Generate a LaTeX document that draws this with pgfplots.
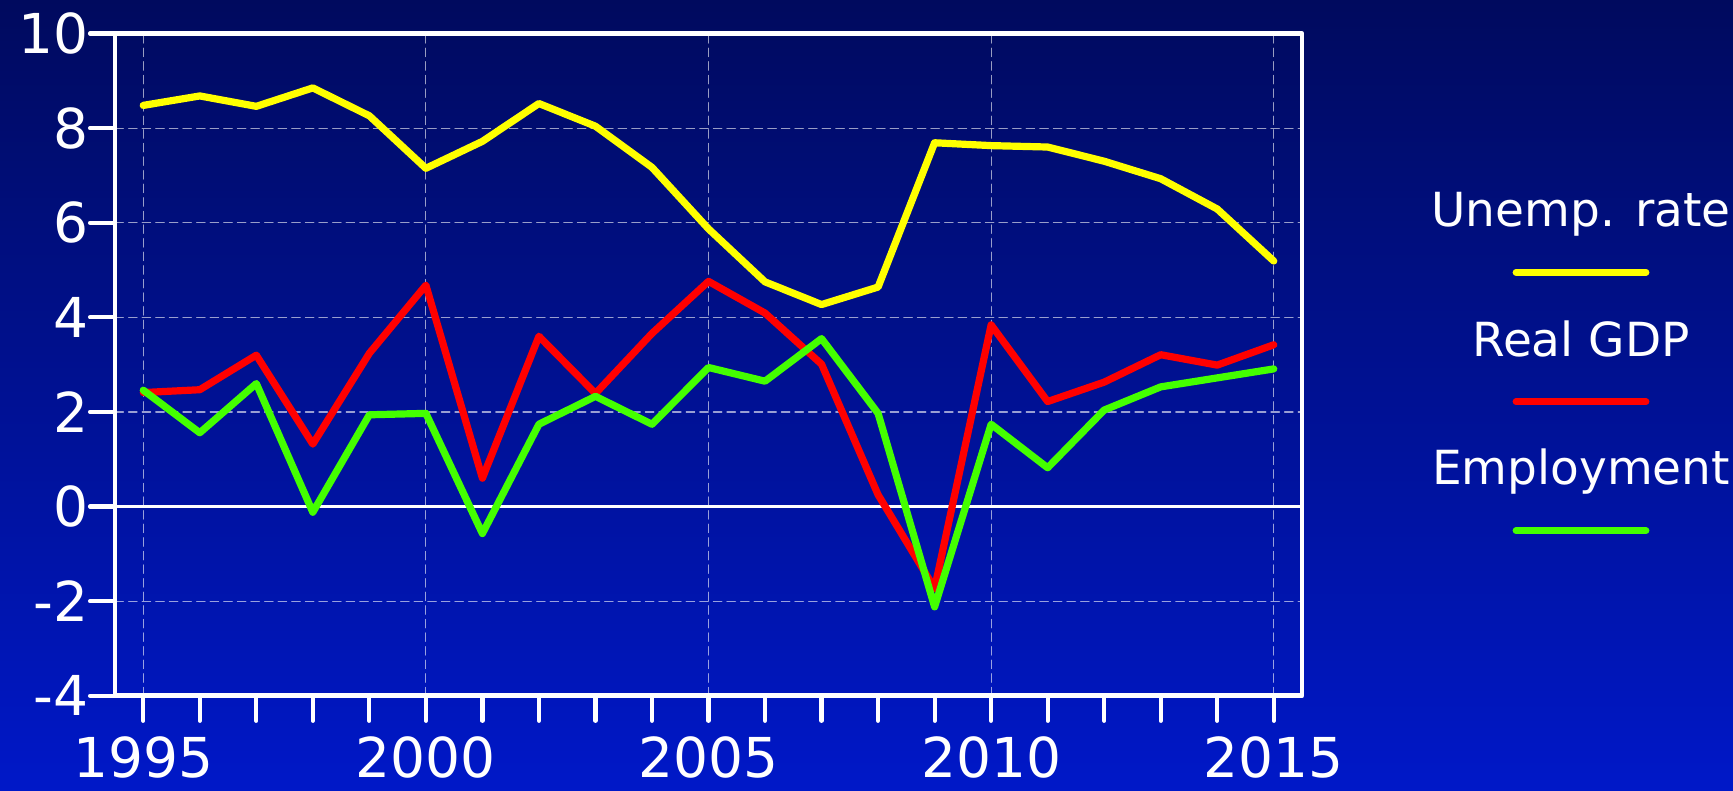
\documentclass[border=0pt]{standalone}
\usepackage{pgfplots}
\pgfplotsset{compat=1.18}
\usepackage{fontspec}
\setmainfont{DejaVu Sans}
\definecolor{bgtop}{HTML}{000A5E}
\definecolor{bgbot}{HTML}{0018C8}
\definecolor{cyel}{HTML}{FFFF00}
\definecolor{cred}{HTML}{FF0000}
\definecolor{cgrn}{HTML}{44FF00}
\begin{document}
\begin{tikzpicture}
\shade[top color=bgtop, bottom color=bgbot] (0pt,0pt) rectangle (866.5pt,395.5pt);
\begin{axis}[
  at={(57.5pt,47.6pt)}, anchor=south west,
  scale only axis, width=593.5pt, height=331.15pt,
  xmin=1994.5, xmax=2015.5, ymin=-4, ymax=10,
  xtick={1995,2000,2005,2010,2015},
  minor xtick={1996,1997,1998,1999,2001,2002,2003,2004,2006,2007,2008,2009,2011,2012,2013,2014},
  ytick={-4,-2,0,2,4,6,8,10},
  yticklabels={-4,-2,0,2,4,6,8,10},
  xticklabels={1995,2000,2005,2010,2015},
  tick pos=left, tick align=outside,
  major tick length=12.5pt, minor tick length=12.5pt,
  every tick/.style={white, line width=2.1pt, line cap=round},
  axis line style={white, line width=2.4pt},
  xmajorgrids, ymajorgrids,
  major grid style={white, opacity=0.6, line width=0.6pt, dash pattern=on 4.2pt off 2.6pt},
  tick label style={white, font=\fontsize{27.5}{32}\selectfont},
  xticklabel style={yshift=-4.6pt},
  yticklabel style={xshift=2.6pt},
  extra y ticks={0}, extra y tick labels={},
  extra y tick style={major tick length=0pt, grid=major, major grid style={white, solid, opacity=1, line width=1.4pt}},
  line join=round, line cap=round,
]
\addplot[cyel, line width=3.6pt] coordinates {
(1995,8.48) (1996,8.68) (1997,8.46) (1998,8.85) (1999,8.26) (2000,7.15) (2001,7.72) (2002,8.52) (2003,8.04) (2004,7.17) (2005,5.87) (2006,4.75) (2007,4.27) (2008,4.64) (2009,7.69) (2010,7.63) (2011,7.60) (2012,7.30) (2013,6.93) (2014,6.29) (2015,5.19)};
\addplot[cred, line width=3.6pt] coordinates {
(1995,2.41) (1996,2.47) (1997,3.20) (1998,1.32) (1999,3.24) (2000,4.68) (2001,0.60) (2002,3.60) (2003,2.39) (2004,3.66) (2005,4.76) (2006,4.09) (2007,3.01) (2008,0.25) (2009,-1.73) (2010,3.84) (2011,2.22) (2012,2.63) (2013,3.21) (2014,2.99) (2015,3.42)};
\addplot[cgrn, line width=3.6pt] coordinates {
(1995,2.46) (1996,1.56) (1997,2.60) (1998,-0.12) (1999,1.94) (2000,1.97) (2001,-0.57) (2002,1.74) (2003,2.33) (2004,1.74) (2005,2.94) (2006,2.65) (2007,3.55) (2008,1.97) (2009,-2.12) (2010,1.74) (2011,0.82) (2012,2.04) (2013,2.53) (2014,2.72) (2015,2.91)};
\end{axis}
% legend
\begin{scope}[font=\fontsize{23.5}{28}\selectfont]
\node[white, anchor=base, inner sep=0pt] at (790.5pt,282.15pt) {Unemp. rate};
\draw[cyel, line width=3.4pt, line cap=round] (758pt,259.35pt) -- (823pt,259.35pt);
\node[white, anchor=base, inner sep=0pt] at (790.5pt,217.15pt) {Real GDP};
\draw[cred, line width=3.4pt, line cap=round] (758pt,194.65pt) -- (823pt,194.65pt);
\node[white, anchor=base, inner sep=0pt] at (790.5pt,153pt) {Employment};
\draw[cgrn, line width=3.4pt, line cap=round] (758pt,130.15pt) -- (823pt,130.15pt);
\end{scope}
\pgfresetboundingbox
\useasboundingbox (0pt,0pt) rectangle (866.5pt,395.5pt);
\end{tikzpicture}
\end{document}
